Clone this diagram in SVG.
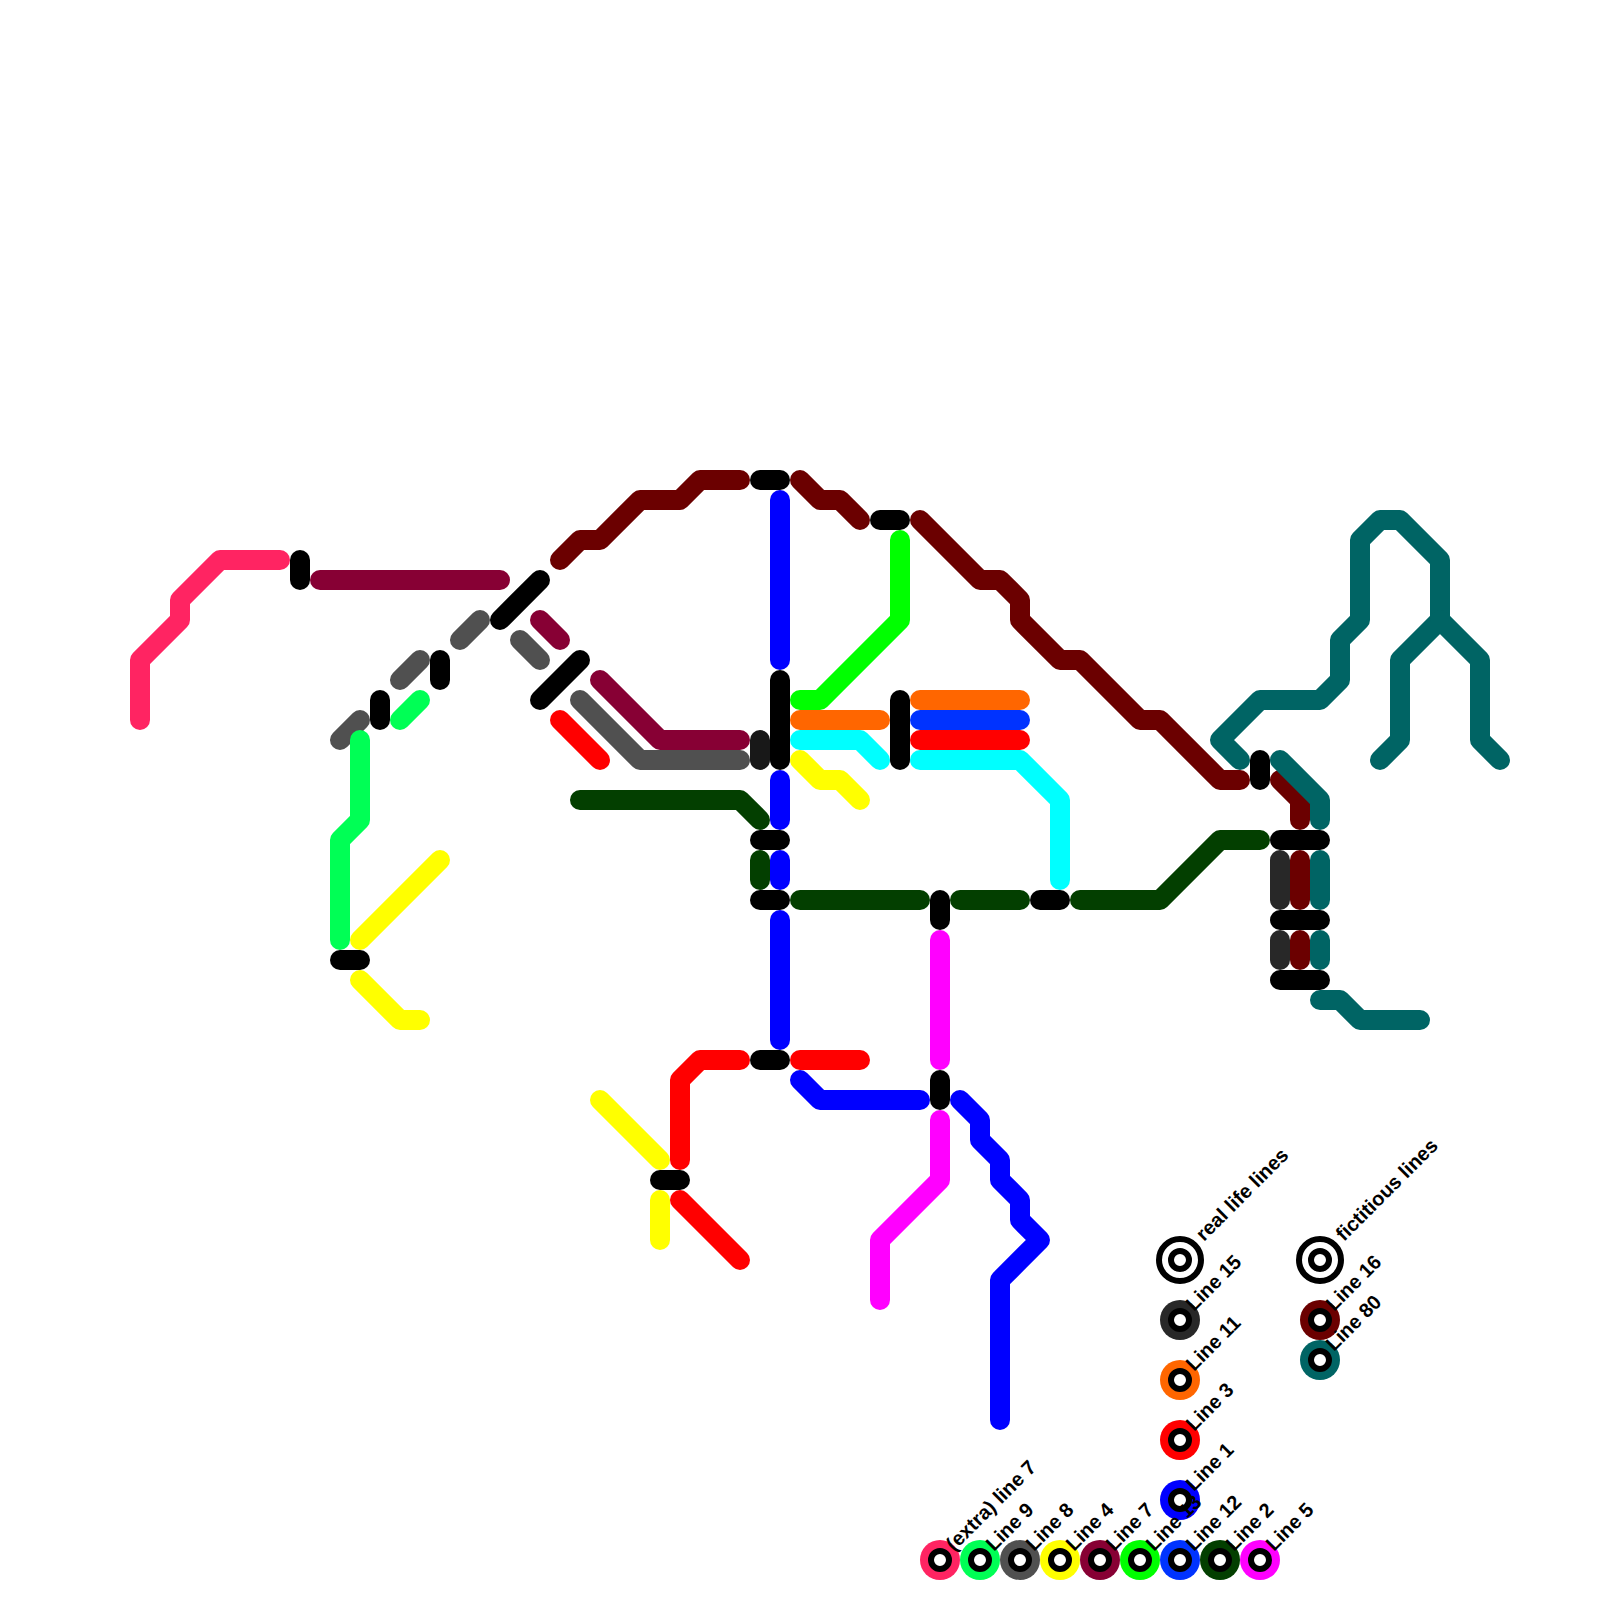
<svg xmlns="http://www.w3.org/2000/svg" width="1600" height="1600" viewBox="0 0 1600 1600">
<style>
path{fill:none;stroke-width:20;stroke-linecap:round;stroke-linejoin:round}
.k{stroke:#000}.l1{stroke:#00f}.l2{stroke:#033f00}.l3{stroke:#f00}.l4{stroke:#ff0}.l5{stroke:#f0f}.l7{stroke:#870034}.l8{stroke:#505050}.l9{stroke:#0f5}.l11{stroke:#f60}.l12{stroke:#03f}.l13{stroke:#0f0}.l14{stroke:#0ff}.l15{stroke:#282828}.l15b{stroke:#181818}.l16{stroke:#6b0000}.l80{stroke:#006464}.lx{stroke:#ff2462}
text{font-family:"Liberation Sans",Arial,sans-serif;font-weight:bold;font-size:20px;fill:#000}
.ring{fill:#fff;stroke:#000;stroke-width:6}
.big{fill:#fff;stroke:#000;stroke-width:6}
</style>
<g id="connectors">
<path class="lx" d="M140 720V660L180 620V600L220 560H280"/>
<path class="l7" d="M320 580H500"/>
<path class="l7" d="M540 620L560 640"/>
<path class="l7" d="M600 680L660 740H740"/>
<path class="l8" d="M340 740L360 720"/>
<path class="l8" d="M400 680L420 660"/>
<path class="l8" d="M460 640L480 620"/>
<path class="l8" d="M520 640L540 660"/>
<path class="l8" d="M580 700L640 760H740"/>
<path class="l9" d="M400 720L420 700"/>
<path class="l9" d="M360 740V820L340 840V940"/>
<path class="l4" d="M360 940L440 860"/>
<path class="l4" d="M360 980L400 1020H420"/>
<path class="l4" d="M600 1100L660 1160"/>
<path class="l4" d="M660 1200V1240"/>
<path class="l4" d="M800 760L820 780H840L860 800"/>
<path class="l3" d="M560 720L600 760"/>
<path class="l3" d="M740 1060H700L680 1080V1160"/>
<path class="l3" d="M680 1200L740 1260"/>
<path class="l3" d="M800 1060H860"/>
<path class="l3" d="M920 740H1020"/>
<path class="l16" d="M560 560L580 540H600L640 500H680L700 480H740"/>
<path class="l16" d="M800 480L820 500H840L860 520"/>
<path class="l16" d="M920 520L980 580H1000L1020 600V620L1060 660H1080L1140 720H1160L1220 780H1240"/>
<path class="l16" d="M1280 780L1300 800V820"/>
<path class="l16" d="M1300 860V900"/>
<path class="l16" d="M1300 940V960"/>
<path class="l80" d="M1240 760L1220 740L1260 700H1320L1340 680V640L1360 620V540L1380 520H1400L1440 560V620L1400 660V740L1380 760"/>
<path class="l80" d="M1440 620L1480 660V740L1500 760"/>
<path class="l80" d="M1280 760L1320 800V820"/>
<path class="l80" d="M1320 860V900"/>
<path class="l80" d="M1320 940V960"/>
<path class="l80" d="M1320 1000H1340L1360 1020H1420"/>
<path class="l15" d="M1280 860V900"/>
<path class="l15" d="M1280 940V960"/>
<path class="l15b" d="M760 740V760"/>
<path class="l2" d="M580 800H740L760 820"/>
<path class="l2" d="M760 860V880"/>
<path class="l2" d="M800 900H920"/>
<path class="l2" d="M960 900H1020"/>
<path class="l2" d="M1080 900H1160L1220 840H1260"/>
<path class="l1" d="M780 500V660"/>
<path class="l1" d="M780 780V820"/>
<path class="l1" d="M780 860V880"/>
<path class="l1" d="M780 920V1040"/>
<path class="l1" d="M800 1080L820 1100H920"/>
<path class="l1" d="M960 1100L980 1120V1140L1000 1160V1180L1020 1200V1220L1040 1240L1000 1280V1420"/>
<path class="l13" d="M900 540V620L820 700H800"/>
<path class="l11" d="M800 720H880"/>
<path class="l14" d="M800 740H860L880 760"/>
<path class="l11" d="M920 700H1020"/>
<path class="l12" d="M920 720H1020"/>
<path class="l14" d="M920 760H1020L1060 800V880"/>
<path class="l5" d="M940 940V1060"/>
<path class="l5" d="M940 1120V1180L880 1240V1300"/>
<path class="k" d="M300 560V580"/>
<path class="k" d="M380 700V720"/>
<path class="k" d="M440 660V680"/>
<path class="k" d="M500 620L540 580"/>
<path class="k" d="M540 700L580 660"/>
<path class="k" d="M760 480H780"/>
<path class="k" d="M780 680V760"/>
<path class="k" d="M880 520H900"/>
<path class="k" d="M900 700V760"/>
<path class="k" d="M760 840H780"/>
<path class="k" d="M760 900H780"/>
<path class="k" d="M940 900V920"/>
<path class="k" d="M1040 900H1060"/>
<path class="k" d="M760 1060H780"/>
<path class="k" d="M940 1080V1100"/>
<path class="k" d="M340 960H360"/>
<path class="k" d="M660 1180H680"/>
<path class="k" d="M1260 760V780"/>
<path class="k" d="M1280 840H1320"/>
<path class="k" d="M1280 920H1320"/>
<path class="k" d="M1280 980H1320"/>
</g>
<g id="legend-real"><circle class="big" cx="1180" cy="1260" r="21"/><circle class="ring" cx="1180" cy="1260" r="9"/><text transform="translate(1204 1242) rotate(-45)">real life lines</text></g>
<g id="legend-fict"><circle class="big" cx="1320" cy="1260" r="21"/><circle class="ring" cx="1320" cy="1260" r="9"/><text transform="translate(1344 1242) rotate(-45)">fictitious lines</text></g>
<g id="l15"><circle cx="1180" cy="1320" r="20" fill="#282828"/><circle class="ring" cx="1180" cy="1320" r="9"/><text transform="translate(1194 1312) rotate(-45)">Line 15</text></g>
<g id="l11"><circle cx="1180" cy="1380" r="20" fill="#f60"/><circle class="ring" cx="1180" cy="1380" r="9"/><text transform="translate(1194 1372) rotate(-45)">Line 11</text></g>
<g id="l3"><circle cx="1180" cy="1440" r="20" fill="#f00"/><circle class="ring" cx="1180" cy="1440" r="9"/><text transform="translate(1194 1432) rotate(-45)">Line 3</text></g>
<g id="l1"><circle cx="1180" cy="1500" r="20" fill="#00f"/><circle class="ring" cx="1180" cy="1500" r="9"/><text transform="translate(1194 1492) rotate(-45)">Line 1</text></g>
<g id="l16"><circle cx="1320" cy="1320" r="20" fill="#6b0000"/><circle class="ring" cx="1320" cy="1320" r="9"/><text transform="translate(1334 1312) rotate(-45)">Line 16</text></g>
<g id="l80"><circle cx="1320" cy="1360" r="20" fill="#006464"/><circle class="ring" cx="1320" cy="1360" r="9"/><text transform="translate(1334 1352) rotate(-45)">Line 80</text></g>
<g id="lx"><circle cx="940" cy="1560" r="20" fill="#ff2462"/><circle class="ring" cx="940" cy="1560" r="9"/><text transform="translate(954 1552) rotate(-45)">(extra) line 7</text></g>
<g id="l9"><circle cx="980" cy="1560" r="20" fill="#0f5"/><circle class="ring" cx="980" cy="1560" r="9"/><text transform="translate(994 1552) rotate(-45)">Line 9</text></g>
<g id="l8"><circle cx="1020" cy="1560" r="20" fill="#505050"/><circle class="ring" cx="1020" cy="1560" r="9"/><text transform="translate(1034 1552) rotate(-45)">Line 8</text></g>
<g id="l4"><circle cx="1060" cy="1560" r="20" fill="#ff0"/><circle class="ring" cx="1060" cy="1560" r="9"/><text transform="translate(1074 1552) rotate(-45)">Line 4</text></g>
<g id="l7"><circle cx="1100" cy="1560" r="20" fill="#870034"/><circle class="ring" cx="1100" cy="1560" r="9"/><text transform="translate(1114 1552) rotate(-45)">Line 7</text></g>
<g id="l13"><circle cx="1140" cy="1560" r="20" fill="#0f0"/><circle class="ring" cx="1140" cy="1560" r="9"/><text transform="translate(1154 1552) rotate(-45)">Line 13</text></g>
<g id="l12"><circle cx="1180" cy="1560" r="20" fill="#03f"/><circle class="ring" cx="1180" cy="1560" r="9"/><text transform="translate(1194 1552) rotate(-45)">Line 12</text></g>
<g id="l2"><circle cx="1220" cy="1560" r="20" fill="#033f00"/><circle class="ring" cx="1220" cy="1560" r="9"/><text transform="translate(1234 1552) rotate(-45)">Line 2</text></g>
<g id="l5"><circle cx="1260" cy="1560" r="20" fill="#f0f"/><circle class="ring" cx="1260" cy="1560" r="9"/><text transform="translate(1274 1552) rotate(-45)">Line 5</text></g>
</svg>
